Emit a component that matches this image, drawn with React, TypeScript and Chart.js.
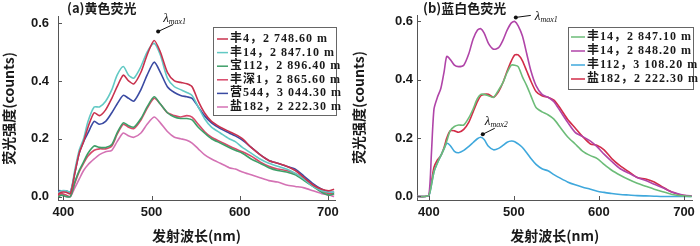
import React, { useEffect, useRef } from "react";
import { Chart, registerables } from "chart.js";
Chart.register(...registerables);

// ---------- data: panel (a) yellow fluorescence ----------
const WL_A = [394, 395, 398, 403, 408, 413, 418, 423, 428, 435, 441, 448, 455, 461, 468, 474, 480, 488, 495, 503, 510, 518, 526, 533, 540, 546, 553, 560, 568, 578, 588, 595, 603, 613, 623, 633, 643, 653, 663, 673, 683, 693, 701, 707];
const A_FENG4 = [0.005, 0.01, 0.015, 0.015, 0.01, 0.08, 0.15, 0.19, 0.24, 0.29, 0.28, 0.30, 0.34, 0.38, 0.42, 0.40, 0.39, 0.43, 0.49, 0.54, 0.50, 0.43, 0.40, 0.395, 0.39, 0.38, 0.33, 0.29, 0.26, 0.24, 0.225, 0.215, 0.20, 0.17, 0.145, 0.125, 0.115, 0.105, 0.09, 0.065, 0.04, 0.025, 0.02, 0.025];
const A_FENG14 = [0.01, 0.015, 0.02, 0.02, 0.015, 0.09, 0.16, 0.20, 0.26, 0.31, 0.31, 0.33, 0.37, 0.42, 0.45, 0.42, 0.41, 0.45, 0.50, 0.53, 0.49, 0.41, 0.38, 0.37, 0.36, 0.35, 0.31, 0.27, 0.24, 0.22, 0.20, 0.19, 0.17, 0.15, 0.13, 0.115, 0.105, 0.095, 0.08, 0.06, 0.035, 0.02, 0.015, 0.015];
const A_BAO112 = [0, 0, 0.005, 0, 0, 0.05, 0.09, 0.12, 0.15, 0.175, 0.17, 0.17, 0.18, 0.22, 0.255, 0.245, 0.24, 0.27, 0.31, 0.345, 0.32, 0.29, 0.275, 0.27, 0.27, 0.265, 0.24, 0.22, 0.20, 0.185, 0.17, 0.16, 0.15, 0.13, 0.115, 0.10, 0.09, 0.085, 0.075, 0.055, 0.035, 0.015, 0.005, 0.01];
const A_FENGSHEN1 = [0, 0.005, 0.01, 0.005, 0, 0.045, 0.085, 0.115, 0.14, 0.16, 0.165, 0.165, 0.175, 0.215, 0.25, 0.24, 0.235, 0.265, 0.305, 0.34, 0.32, 0.29, 0.28, 0.275, 0.28, 0.275, 0.25, 0.225, 0.205, 0.19, 0.175, 0.165, 0.155, 0.14, 0.12, 0.105, 0.095, 0.09, 0.08, 0.06, 0.04, 0.02, 0.01, 0.01];
const A_YING544 = [0.01, 0.02, 0.02, 0.02, 0.015, 0.08, 0.15, 0.19, 0.22, 0.26, 0.25, 0.26, 0.29, 0.32, 0.35, 0.34, 0.33, 0.37, 0.42, 0.465, 0.43, 0.38, 0.36, 0.35, 0.345, 0.34, 0.31, 0.28, 0.255, 0.235, 0.22, 0.21, 0.195, 0.17, 0.145, 0.125, 0.115, 0.105, 0.095, 0.07, 0.045, 0.025, 0.015, 0.015];
const A_YAN182 = [0, 0.005, 0.005, 0, 0, 0.03, 0.06, 0.09, 0.11, 0.13, 0.145, 0.155, 0.16, 0.19, 0.22, 0.21, 0.205, 0.22, 0.25, 0.275, 0.255, 0.225, 0.205, 0.20, 0.195, 0.185, 0.165, 0.145, 0.13, 0.115, 0.10, 0.095, 0.085, 0.075, 0.065, 0.055, 0.05, 0.04, 0.035, 0.03, 0.02, 0.01, 0.005, 0];
const LABELS_A = ["丰4，2 748.60 m", "丰14，2 847.10 m", "宝112，2 896.40 m", "丰深1，2 865.60 m", "营544，3 044.30 m", "盐182，2 222.30 m"];

// ---------- data: panel (b) blue-white fluorescence ----------
const WL_B = [386, 395, 400, 403, 406, 410, 414, 418, 421, 425, 430, 435, 441, 447, 452, 457, 461, 465, 470, 476, 482, 487, 492, 497, 501, 505, 510, 515, 520, 526, 533, 540, 547, 555, 563, 572, 581, 590, 598, 606, 615, 625, 635, 645, 655, 665, 675, 685, 695, 703, 709];
const B_FENG14A = [0, 0, 0.005, 0.04, 0.085, 0.115, 0.14, 0.165, 0.19, 0.225, 0.24, 0.245, 0.245, 0.27, 0.30, 0.335, 0.35, 0.35, 0.345, 0.34, 0.365, 0.39, 0.425, 0.45, 0.45, 0.445, 0.41, 0.38, 0.345, 0.305, 0.29, 0.28, 0.265, 0.235, 0.205, 0.18, 0.155, 0.14, 0.13, 0.11, 0.09, 0.073, 0.058, 0.045, 0.035, 0.025, 0.016, 0.008, 0.003, 0.001, 0];
const B_FENG14B = [0, 0, 0.005, 0.15, 0.30, 0.34, 0.37, 0.43, 0.48, 0.47, 0.45, 0.445, 0.45, 0.49, 0.54, 0.57, 0.575, 0.56, 0.525, 0.505, 0.51, 0.535, 0.57, 0.595, 0.60, 0.585, 0.55, 0.49, 0.43, 0.38, 0.35, 0.34, 0.325, 0.29, 0.255, 0.22, 0.205, 0.19, 0.17, 0.145, 0.12, 0.095, 0.08, 0.065, 0.055, 0.042, 0.03, 0.016, 0.008, 0.003, 0.002];
const B_FENG112 = [0, 0, 0.003, 0.04, 0.085, 0.115, 0.14, 0.165, 0.182, 0.175, 0.155, 0.15, 0.158, 0.172, 0.185, 0.198, 0.203, 0.195, 0.172, 0.16, 0.165, 0.175, 0.186, 0.19, 0.188, 0.18, 0.168, 0.15, 0.13, 0.11, 0.095, 0.088, 0.075, 0.062, 0.05, 0.04, 0.032, 0.025, 0.018, 0.014, 0.01, 0.007, 0.005, 0.003, 0.002, 0.001, 0, 0, 0, 0, 0];
const B_YAN182 = [0, 0, 0.005, 0.05, 0.10, 0.125, 0.14, 0.17, 0.20, 0.225, 0.225, 0.22, 0.23, 0.255, 0.29, 0.325, 0.345, 0.35, 0.35, 0.34, 0.36, 0.39, 0.43, 0.465, 0.485, 0.485, 0.465, 0.43, 0.395, 0.36, 0.345, 0.34, 0.33, 0.30, 0.265, 0.235, 0.205, 0.18, 0.175, 0.16, 0.13, 0.105, 0.085, 0.065, 0.06, 0.05, 0.032, 0.016, 0.006, 0.002, 0.001];
const LABELS_B = ["丰14，2 847.10 m", "丰14，2 848.20 m", "丰112，3 108.20 m", "盐182，2 222.30 m"];

const X_TICKS = [400, 500, 600, 700];
const Y_TICKS = [0, 0.2, 0.4, 0.6];

const AXIS_COLOR = "#555";
const TEXT_COLOR = "#1a1a1a";
const TICK_FONT = { family: '"Liberation Sans", Arial, sans-serif', size: 13, weight: "bold" as const };
const TITLE_FONT = { family: '"Noto Sans CJK SC", "Liberation Sans", sans-serif', size: 14, weight: "bold" as const };
const LEGEND_FONT = 'bold 12px "Liberation Serif", "Noto Sans CJK SC", serif';

type Note = { ds: number; sub: string; dot: [number, number]; end: [number, number]; text: [number, number] };
type PanelCfg = {
  title: string; titleX: number;
  wl: number[]; series: number[][]; labels: string[]; colors: string[];
  xMin: number; xMax: number; yAxisW: number; yTickPad: number; padRight: number;
  legend: { x: number; y: number; w: number; h: number; first: number; row: number; s0: number; s1: number; tx: number };
  notes: Note[];
};

const PANEL_A: PanelCfg = {
  title: "(a)黄色荧光", titleX: 67,
  wl: WL_A,
  series: [A_FENG4, A_FENG14, A_BAO112, A_FENGSHEN1, A_YING544, A_YAN182],
  labels: LABELS_A,
  colors: ["#c8324e", "#62c9c4", "#3e9f68", "#d8486a", "#3a4aa2", "#d472b4"],
  xMin: 394, xMax: 708, yAxisW: 58, yTickPad: 9, padRight: 15,
  legend: { x: 213, y: 27, w: 123, h: 88, first: 12, row: 13.6, s0: 4, s1: 15, tx: 17 },
  notes: [{ ds: 0, sub: "max1", dot: [4, -9], end: [19, -16], text: [9, -18] }],
};

const PANEL_B: PanelCfg = {
  title: "(b)蓝白色荧光", titleX: 73,
  wl: WL_B,
  series: [B_FENG14A, B_FENG14B, B_FENG112, B_YAN182],
  labels: LABELS_B,
  colors: ["#6cbc78", "#b044a8", "#3fa8dc", "#d22c48"],
  xMin: 386, xMax: 710, yAxisW: 67, yTickPad: 4, padRight: 5,
  legend: { x: 218, y: 27, w: 125, h: 62, first: 10, row: 14, s0: 3, s1: 17, tx: 19 },
  notes: [
    { ds: 1, sub: "max1", dot: [1, -4], end: [16, -6], text: [20, -1] },
    { ds: 2, sub: "max2", dot: [2, -3], end: [14, -9], text: [4, -12] },
  ],
};

function decorPlugin(p: PanelCfg) {
  return {
    id: "decor",
    afterDraw(chart: any) {
      const ctx: any = chart.ctx;
      const { left, bottom } = chart.chartArea;
      const xs = chart.scales.x;
      const ys = chart.scales.y;
      ctx.save();
      // inward tick marks
      ctx.strokeStyle = AXIS_COLOR;
      ctx.lineWidth = 1;
      ctx.beginPath();
      for (const v of X_TICKS) {
        const px = Math.round(xs.getPixelForValue(v)) + 0.5;
        ctx.moveTo(px, bottom);
        ctx.lineTo(px, bottom - 4);
      }
      for (const v of Y_TICKS) {
        const py = Math.round(ys.getPixelForValue(v)) + 0.5;
        ctx.moveTo(left, py);
        ctx.lineTo(left + 4, py);
      }
      ctx.stroke();
      // panel title
      ctx.fillStyle = TEXT_COLOR;
      ctx.font = 'bold 13px "Noto Sans CJK SC", sans-serif';
      ctx.textBaseline = "middle";
      ctx.textAlign = "left";
      ctx.fillText(p.title, p.titleX, 8);
      // legend
      const L = p.legend;
      ctx.fillStyle = "#fff";
      ctx.fillRect(L.x, L.y, L.w, L.h);
      ctx.strokeStyle = "#666";
      ctx.lineWidth = 1;
      ctx.strokeRect(L.x + 0.5, L.y + 0.5, L.w, L.h);
      ctx.font = LEGEND_FONT;
      chart.data.datasets.forEach((ds: any, i: number) => {
        const cy = L.y + L.first + i * L.row;
        ctx.strokeStyle = ds.borderColor;
        ctx.lineWidth = 1.5;
        ctx.beginPath();
        ctx.moveTo(L.x + L.s0, cy);
        ctx.lineTo(L.x + L.s1, cy);
        ctx.stroke();
        ctx.fillStyle = TEXT_COLOR;
        ctx.letterSpacing = "1px";
        ctx.fillText(ds.label, L.x + L.tx, cy);
        ctx.letterSpacing = "0px";
      });
      // peak annotations
      for (const a of p.notes) {
        const data = chart.data.datasets[a.ds].data;
        let k = 0;
        data.forEach((d: any, j: number) => { if (d.y > data[k].y) k = j; });
        const el = chart.getDatasetMeta(a.ds).data[k];
        const px = el.x, py = el.y;
        ctx.strokeStyle = "#111";
        ctx.fillStyle = "#111";
        ctx.lineWidth = 1;
        ctx.beginPath();
        ctx.moveTo(px + a.dot[0], py + a.dot[1]);
        ctx.lineTo(px + a.end[0], py + a.end[1]);
        ctx.stroke();
        ctx.beginPath();
        ctx.arc(px + a.dot[0], py + a.dot[1], 2, 0, Math.PI * 2);
        ctx.fill();
        ctx.textBaseline = "alphabetic";
        ctx.font = 'italic 13px "Liberation Serif", serif';
        const tx = px + a.text[0], ty = py + a.text[1];
        ctx.fillText("λ", tx, ty);
        const w = ctx.measureText("λ").width;
        ctx.font = 'italic 8px "Liberation Serif", serif';
        ctx.fillText(a.sub, tx + w, ty + 2);
      }
      ctx.restore();
    },
  };
}

function buildConfig(p: PanelCfg): any {
  return {
    type: "line",
    data: {
      datasets: p.series.map((s, i) => ({
        label: p.labels[i],
        data: p.wl.map((x, j) => ({ x, y: s[j] })),
        borderColor: p.colors[i],
        backgroundColor: p.colors[i],
        borderWidth: 1.6,
        pointRadius: 0,
        tension: 0.25,
        fill: false,
      })),
    },
    options: {
      animation: false,
      responsive: false,
      devicePixelRatio: 1,
      layout: { padding: { left: 0, right: p.padRight, top: 15, bottom: 0 } },
      plugins: { legend: { display: false }, tooltip: { enabled: false } },
      scales: {
        x: {
          type: "linear",
          min: p.xMin,
          max: p.xMax,
          afterBuildTicks: (s: any) => { s.ticks = X_TICKS.map((v) => ({ value: v })); },
          afterFit: (s: any) => { s.height = 46; },
          ticks: { font: TICK_FONT, color: TEXT_COLOR, padding: 5, maxRotation: 0, autoSkip: false, callback: (v: any) => String(v) },
          grid: { display: true, drawOnChartArea: false, drawTicks: false },
          border: { display: true, color: AXIS_COLOR, width: 1 },
          title: { display: true, text: "发射波长(nm)", font: TITLE_FONT, color: TEXT_COLOR, padding: { top: 0, bottom: 2 } },
        },
        y: {
          type: "linear",
          min: -0.012,
          max: 0.622,
          afterBuildTicks: (s: any) => { s.ticks = Y_TICKS.map((v) => ({ value: v })); },
          afterFit: (s: any) => { s.width = p.yAxisW; },
          ticks: { font: TICK_FONT, color: TEXT_COLOR, padding: p.yTickPad, autoSkip: false, callback: (v: any) => Number(v).toFixed(1) },
          grid: { display: true, drawOnChartArea: false, drawTicks: false },
          border: { display: true, color: AXIS_COLOR, width: 1 },
          title: { display: true, text: "荧光强度(counts)", font: TITLE_FONT, color: TEXT_COLOR, padding: { top: 0, bottom: 0 } },
        },
      },
    },
    plugins: [decorPlugin(p)],
  };
}

function Panel({ cfg }: { cfg: PanelCfg }) {
  const ref = useRef<HTMLCanvasElement>(null);
  useEffect(() => {
    const chart = new Chart(ref.current as HTMLCanvasElement, buildConfig(cfg));
    return () => chart.destroy();
  }, [cfg]);
  return <canvas ref={ref} width={350} height={246} style={{ display: "block", width: 350, height: 246 }} />;
}

export default function App() {
  return (
    <div style={{ position: "absolute", left: 0, top: 0, width: 700, height: 246, display: "flex", background: "#fff" }}>
      <Panel cfg={PANEL_A} />
      <Panel cfg={PANEL_B} />
    </div>
  );
}
